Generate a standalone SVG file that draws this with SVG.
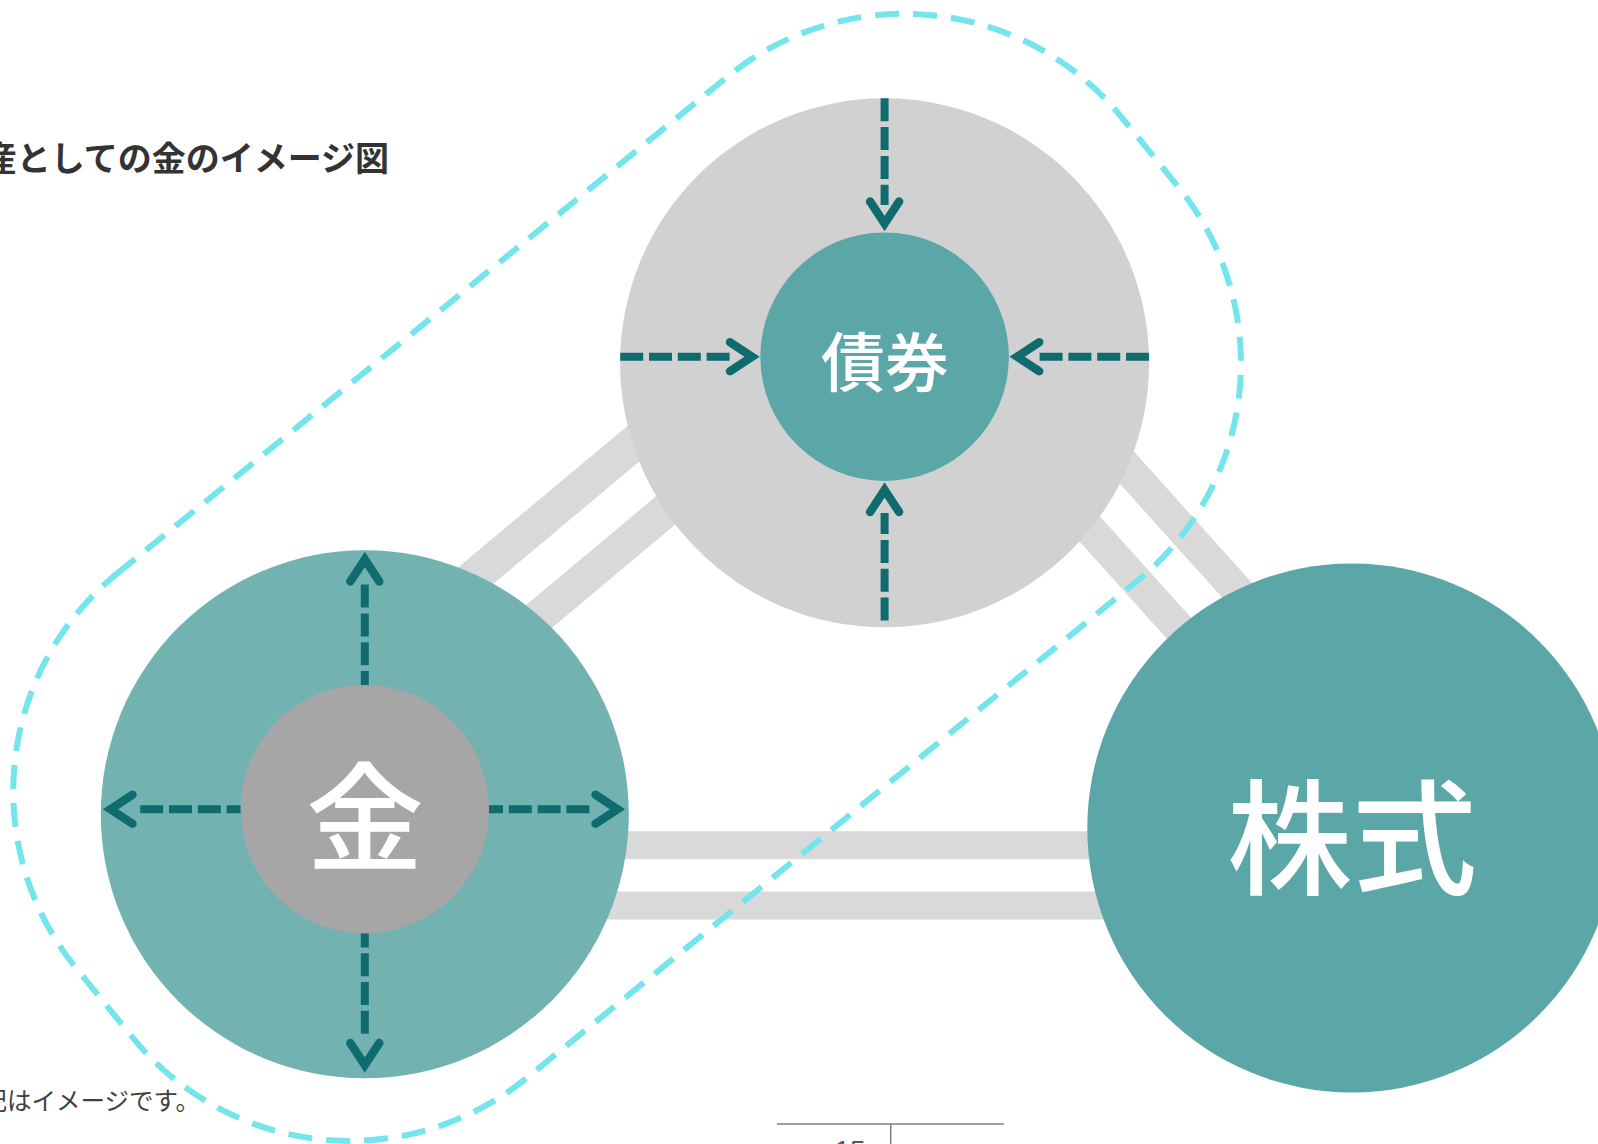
<svg xmlns="http://www.w3.org/2000/svg" xmlns:xlink="http://www.w3.org/1999/xlink" width="1598" height="1144" viewBox="0 0 1598 1144">
  <style>
    .bar { stroke: #d9d9d9; fill: none; stroke-linecap: butt; }
    .arr { stroke: #106b6e; stroke-width: 8; fill: none; stroke-dasharray: 23 5.8; stroke-linecap: butt; }
    .lbl { font-family: 'Noto Sans CJK JP', 'Noto Sans CJK SC', sans-serif; fill: #ffffff; font-weight: 500; text-anchor: middle; }
    .outline { fill: none; stroke: #74e5ec; stroke-width: 6; stroke-dasharray: 24 14; }
    .txt { font-family: 'Noto Sans CJK JP', 'Noto Sans CJK SC', sans-serif; }
  </style>
  <defs>
    <path id="chev" d="M-30,-14.5 L-8,0 L-30,14.5" fill="none" stroke="#106b6e" stroke-width="8.5" stroke-linecap="round" stroke-linejoin="miter" stroke-miterlimit="10"/>
  </defs>

  <rect width="1598" height="1144" fill="#ffffff"/>

  <g id="connectors">
    <path class="bar" stroke-width="28" d="M365,845.3 H1352"/>
    <path class="bar" stroke-width="28" d="M365,905.5 H1352"/>
    <path class="bar" stroke-width="35" d="M380,655.6 L700,388.1"/>
    <path class="bar" stroke-width="34" d="M450,691.1 L760,431.3"/>
    <path class="bar" stroke-width="32" d="M1000,326.4 L1300,660.3"/>
    <path class="bar" stroke-width="32" d="M950,373.4 L1250,707.3"/>
  </g>

  <g id="node-bond">
    <circle cx="884.6" cy="362.8" r="264.5" fill="#d1d1d1"/>
    <circle cx="884.6" cy="356.7" r="124.3" fill="#5ba6a7"/>
    <path class="arr" d="M884.6,98.3 V205"/>
    <use xlink:href="#chev" transform="translate(884.6,231.5) rotate(90)"/>
    <path class="arr" d="M884.6,620.5 V513"/>
    <use xlink:href="#chev" transform="translate(884.6,482) rotate(-90)"/>
    <path class="arr" d="M620.2,356.7 H729.6"/>
    <use xlink:href="#chev" transform="translate(760,356.7)"/>
    <path class="arr" d="M1149,356.7 H1039.6"/>
    <use xlink:href="#chev" transform="translate(1009.2,356.7) rotate(180)"/>
    <text class="lbl" x="885" y="386" font-size="64">債券</text>
  </g>

  <g id="node-gold">
    <circle cx="364.8" cy="814.3" r="264" fill="#72b3b2"/>
    <path class="arr" d="M364.8,809.2 H589.4"/>
    <use xlink:href="#chev" transform="translate(625.5,809.2)"/>
    <path class="arr" d="M364.8,809.2 H140.2"/>
    <use xlink:href="#chev" transform="translate(102.5,809.2) rotate(180)"/>
    <path class="arr" d="M364.8,809.2 V584.6"/>
    <use xlink:href="#chev" transform="translate(364.8,551.5) rotate(-90)"/>
    <path class="arr" d="M364.8,809.2 V1033.8"/>
    <use xlink:href="#chev" transform="translate(364.8,1073) rotate(90)"/>
    <circle cx="364.8" cy="809.2" r="124.3" fill="#a6a6a6"/>
    <text class="lbl" x="365" y="862" font-size="118">金</text>
  </g>

  <g id="node-stock">
    <circle cx="1351.8" cy="828" r="264.5" fill="#5ba6a7"/>
    <text class="lbl" x="1352" y="885" font-size="125">株式</text>
  </g>

  <g id="group-outline">
    <rect class="outline" x="-552" y="513.8" width="1348" height="649.7" rx="280" ry="280" transform="translate(3,4) rotate(-39.15)"/>
  </g>

  <g id="title">
    <text class="txt" x="389" y="171" font-size="34" font-weight="700" fill="#333333" text-anchor="end">産としての金のイメージ図</text>
  </g>
  <g id="note">
    <text class="txt" x="-17.5" y="1109.5" font-size="24.5" fill="#404040">記はイメージです。</text>
  </g>
  <g id="footer">
    <path d="M777,1124 H1004 M890.7,1124 V1144" stroke="#808080" stroke-width="1.5" fill="none"/>
    <text x="850" y="1160" font-family="'Liberation Sans', Arial, sans-serif" font-size="28" fill="#595959" text-anchor="middle">15</text>
  </g>
</svg>
